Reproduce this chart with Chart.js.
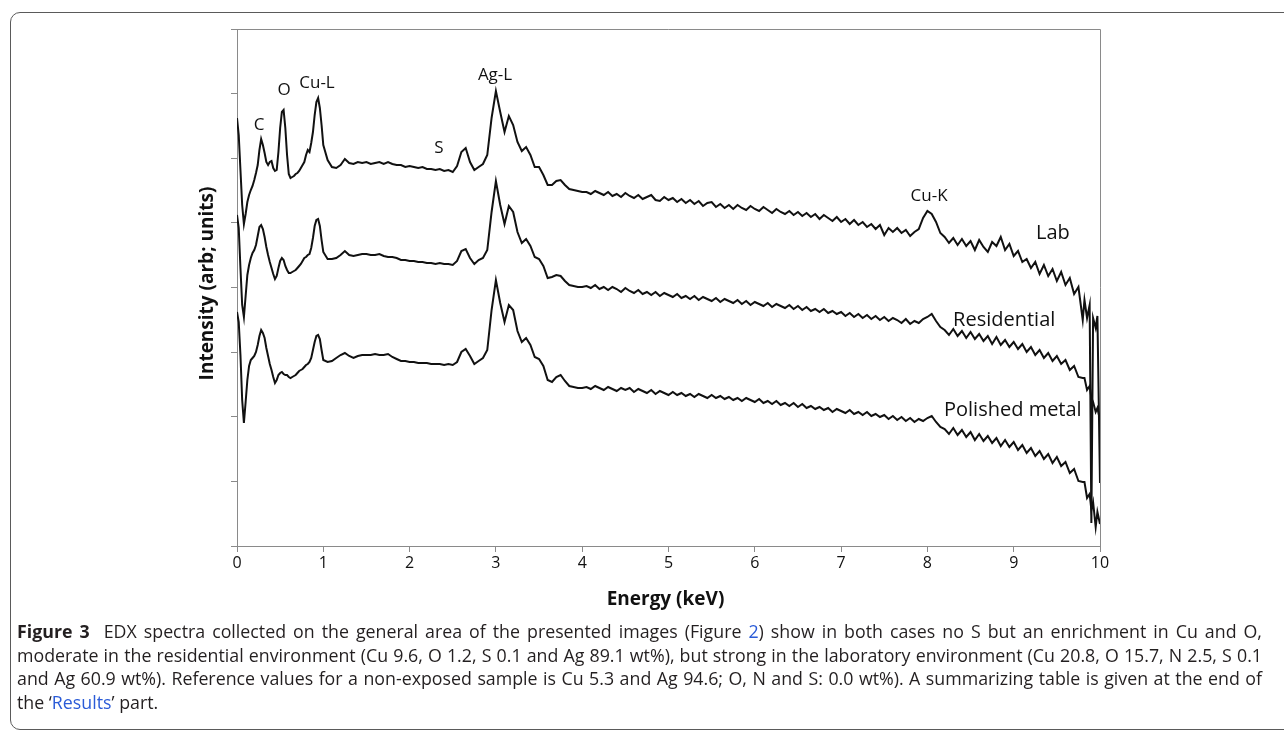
<!DOCTYPE html>
<html>
<head>
<meta charset="utf-8">
<script src="https://cdn.jsdelivr.net/npm/chart.js@4.4.0/dist/chart.umd.min.js"></script>
<style>
html, body { margin: 0; padding: 0; background: #fff; width: 1284px; height: 730px; overflow: hidden; }
#frame { position: absolute; left: 10px; top: 12px; width: 1320px; height: 716px; border: 1px solid #5a5a5a; border-radius: 10px; }
#chart { position: absolute; left: 0; top: 0; }
#caption { position: absolute; left: 17px; top: 620px; font-family: "Open Sans", sans-serif; font-size: 17.8px; line-height: 23.7px; color: #231f20; }
#caption div { width: 1245px; white-space: nowrap; text-align: justify; text-align-last: justify; }
#caption div.last { text-align: left; text-align-last: left; }
#caption b { font-weight: 700; }
#caption a { color: #2a5bd7; text-decoration: none; }
</style>
</head>
<body>
<div id="frame"></div>
<canvas id="chart" width="1284" height="620"></canvas>
<div id="caption">
<div><b>Figure 3</b>&nbsp; EDX spectra collected on the general area of the presented images (Figure <a>2</a>) show in both cases no S but an enrichment in Cu and O,</div>
<div>moderate in the residential environment (Cu 9.6, O 1.2, S 0.1 and Ag 89.1 wt%), but strong in the laboratory environment (Cu 20.8, O 15.7, N 2.5, S 0.1</div>
<div>and Ag 60.9 wt%). Reference values for a non-exposed sample is Cu 5.3 and Ag 94.6; O, N and S: 0.0 wt%). A summarizing table is given at the end of</div>
<div class="last">the &lsquo;<a>Results</a>&rsquo; part.</div>
</div>
<script>
// EDX spectra - energy in keV, intensities in arbitrary units (offset per sample)

const energy = [
  0, 0.02, 0.04, 0.06, 0.08, 0.1, 0.12, 0.14, 0.16, 0.18, 0.2, 0.22, 0.24, 0.26, 0.28, 0.3, 0.32, 0.34, 0.36, 0.38,
  0.4, 0.42, 0.44, 0.46, 0.48, 0.5, 0.52, 0.54, 0.56, 0.58, 0.6, 0.62, 0.64, 0.66, 0.68, 0.7, 0.72, 0.74, 0.76, 0.78,
  0.8, 0.82, 0.84, 0.86, 0.88, 0.9, 0.92, 0.94, 0.96, 0.98, 1,
  1.05, 1.1, 1.15, 1.2, 1.25, 1.3, 1.35, 1.4, 1.45, 1.5, 1.55, 1.6, 1.65, 1.7, 1.75, 1.8, 1.85, 1.9, 1.95, 2,
  2.05, 2.1, 2.15, 2.2, 2.25, 2.3, 2.35, 2.4, 2.45, 2.5, 2.55, 2.6, 2.65, 2.7, 2.75, 2.8, 2.85, 2.9, 2.95, 3,
  3.05, 3.1, 3.15, 3.2, 3.25, 3.3, 3.35, 3.4, 3.45, 3.5, 3.55, 3.6, 3.65, 3.7, 3.75, 3.8, 3.85, 3.9, 3.95, 4,
  4.05, 4.1, 4.15, 4.2, 4.25, 4.3, 4.35, 4.4, 4.45, 4.5, 4.55, 4.6, 4.65, 4.7, 4.75, 4.8, 4.85, 4.9, 4.95, 5,
  5.05, 5.1, 5.15, 5.2, 5.25, 5.3, 5.35, 5.4, 5.45, 5.5, 5.55, 5.6, 5.65, 5.7, 5.75, 5.8, 5.85, 5.9, 5.95, 6,
  6.05, 6.1, 6.15, 6.2, 6.25, 6.3, 6.35, 6.4, 6.45, 6.5, 6.55, 6.6, 6.65, 6.7, 6.75, 6.8, 6.85, 6.9, 6.95, 7,
  7.05, 7.1, 7.15, 7.2, 7.25, 7.3, 7.35, 7.4, 7.45, 7.5, 7.55, 7.6, 7.65, 7.7, 7.75, 7.8, 7.85, 7.9, 7.95, 8,
  8.05, 8.1, 8.15, 8.2, 8.25, 8.3, 8.35, 8.4, 8.45, 8.5, 8.55, 8.6, 8.65, 8.7, 8.75, 8.8, 8.85, 8.9, 8.95, 9,
  9.05, 9.1, 9.15, 9.2, 9.25, 9.3, 9.35, 9.4, 9.45, 9.5, 9.55, 9.6, 9.65, 9.7, 9.75, 9.8,
  9.82, 9.85, 9.88, 9.9, 9.92, 9.95, 9.97, 10
];

const lab = [
  428, 411, 376, 341, 322, 332, 344, 351, 356, 360, 366, 373, 381, 396, 407, 401, 393, 384, 381, 384,
  385, 378, 375, 376, 394, 418, 434, 436, 418, 391, 372, 368, 369, 370, 372, 373, 375, 378, 381, 384,
  391, 396, 394, 403, 414, 431, 444, 448, 438, 421, 401,
  386, 379, 378, 381, 387, 383, 382, 384, 383, 384, 382, 383, 384, 382, 384, 382, 381, 381, 379, 380,
  379, 378, 379, 377, 377, 376, 377, 375, 376, 374, 380, 394, 398, 384, 376, 379, 382, 391, 428, 455,
  434, 414, 430, 421, 404, 395, 399, 391, 379, 379, 371, 361, 361, 365, 366, 361, 357, 356, 355, 354,
  354, 352, 355, 353, 351, 354, 350, 352, 349, 353, 350, 348, 351, 347, 349, 351, 346, 345, 349, 346,
  348, 344, 347, 343, 346, 342, 345, 340, 343, 344, 339, 342, 338, 341, 337, 341, 338, 336, 340, 337,
  335, 339, 336, 333, 337, 334, 332, 335, 331, 334, 330, 333, 329, 332, 327, 331, 328, 325, 329, 324,
  327, 322, 326, 321, 324, 319, 322, 317, 321, 311, 318, 314, 318, 313, 316, 310, 314, 317, 328, 335,
  332, 324, 313, 309, 303, 308, 301, 307, 300, 305, 296, 306, 299, 294, 304, 300, 309, 296, 302, 290,
  295, 284, 287, 278, 284, 272, 281, 270, 277, 265, 274, 261, 268, 252, 259, 226,
  246, 228, 241, 23, 228, 218, 230, 63
];

const residential = [
  331, 318, 278, 241, 229, 250, 271, 281, 288, 293, 296, 301, 310, 319, 321, 317, 309, 299, 291, 284,
  278, 272, 267, 270, 278, 285, 288, 286, 280, 276, 273, 273, 274, 275, 276, 278, 280, 282, 285, 288,
  289, 291, 292, 298, 308, 320, 326, 327, 320, 306, 294,
  287, 287, 288, 291, 295, 291, 290, 291, 292, 292, 291, 291, 292, 290, 289, 289, 288, 286, 286, 285,
  285, 284, 284, 283, 283, 282, 283, 282, 282, 281, 285, 295, 297, 288, 282, 286, 288, 296, 334, 365,
  341, 322, 340, 334, 314, 303, 307, 300, 289, 287, 280, 268, 269, 271, 270, 265, 261, 260, 259, 259,
  260, 258, 261, 257, 259, 256, 259, 257, 254, 258, 255, 253, 256, 252, 254, 251, 254, 250, 253, 251,
  249, 252, 248, 250, 247, 250, 246, 249, 247, 245, 248, 244, 247, 245, 243, 246, 242, 245, 241, 244,
  242, 240, 243, 239, 242, 240, 238, 241, 237, 240, 236, 239, 235, 237, 234, 237, 233, 235, 232, 234,
  230, 233, 229, 232, 228, 231, 227, 230, 226, 229, 225, 228, 226, 223, 227, 222, 225, 223, 227, 229,
  232, 225, 219, 216, 211, 217, 210, 215, 208, 214, 207, 212, 205, 210, 202, 209, 201, 206, 199, 204,
  197, 202, 194, 199, 191, 196, 188, 193, 185, 190, 182, 186, 176, 180, 169, 168,
  168, 156, 160, 148, 144, 134, 138, 126
];

const polished = [
  234, 224, 191, 146, 123, 144, 166, 180, 186, 188, 190, 194, 201, 210, 216, 213, 208, 198, 190, 182,
  176, 169, 163, 166, 171, 173, 174, 172, 171, 171, 169, 168, 169, 170, 171, 173, 175, 176, 177, 179,
  181, 182, 184, 188, 196, 204, 210, 211, 207, 196, 186,
  184, 185, 188, 191, 193, 190, 188, 190, 191, 191, 191, 192, 191, 191, 192, 189, 187, 185, 185, 184,
  184, 183, 183, 183, 182, 182, 182, 181, 182, 181, 184, 194, 197, 190, 182, 185, 188, 196, 236, 266,
  243, 224, 241, 236, 215, 204, 208, 201, 189, 187, 180, 166, 164, 169, 171, 165, 160, 159, 158, 158,
  159, 157, 160, 158, 156, 159, 157, 155, 158, 156, 158, 154, 157, 155, 153, 156, 152, 155, 153, 151,
  154, 151, 153, 150, 152, 149, 152, 150, 148, 151, 148, 150, 147, 149, 146, 148, 145, 148, 146, 144,
  147, 143, 145, 142, 145, 141, 143, 140, 143, 139, 142, 138, 140, 137, 139, 136, 138, 134, 137, 135,
  133, 136, 132, 134, 131, 134, 130, 132, 129, 131, 127, 130, 126, 129, 125, 128, 124, 127, 125, 128,
  130, 124, 119, 117, 112, 118, 111, 116, 109, 114, 106, 112, 105, 110, 103, 108, 100, 106, 99, 104,
  96, 101, 93, 98, 90, 95, 87, 92, 83, 89, 80, 84, 73, 77, 65, 64,
  64, 48, 52, 36, 44, 19, 34, 22
];

const xTicks = [0, 1, 2, 3, 4, 5, 6, 7, 8, 9, 10];
const yMax = 517;

// peak annotations
const peakNames = ['C', 'O', 'Cu-L', 'S', 'Ag-L', 'Cu-K'];
const peakEnergy = [0.255, 0.545, 0.927, 2.34, 2.99, 8.02];
const peakLevel = [421, 456, 463, 398, 471, 350];

// sample names next to each spectrum
const sampleNames = ['Lab', 'Residential', 'Polished metal'];
const sampleEnergy = [9.455, 8.89, 8.99];
const sampleLevel = [313, 226, 136];

const FONT = '"Open Sans", "DejaVu Sans", sans-serif';
const AXIS_GRAY = '#8a8a8a';

function toPoints(values) {
  return energy.map((e, i) => ({ x: e, y: values[i] }));
}

const plotBox = {
  id: 'plotBox',
  beforeDatasetsDraw(chart) {
    const { ctx, chartArea: a } = chart;
    ctx.save();
    ctx.strokeStyle = AXIS_GRAY;
    ctx.lineWidth = 1;
    ctx.beginPath();
    ctx.moveTo(a.left, a.top + 0.5);
    ctx.lineTo(a.right + 0.5, a.top + 0.5);
    ctx.lineTo(a.right + 0.5, a.bottom);
    ctx.stroke();
    ctx.restore();
  }
};

const textLayer = {
  id: 'textLayer',
  afterDatasetsDraw(chart) {
    const { ctx, chartArea: a, scales } = chart;
    ctx.save();
    ctx.fillStyle = '#111';
    ctx.textAlign = 'center';
    ctx.textBaseline = 'middle';

    ctx.font = '17px ' + FONT;
    peakNames.forEach((name, i) => {
      ctx.fillText(name, scales.x.getPixelForValue(peakEnergy[i]), scales.y.getPixelForValue(peakLevel[i]));
    });

    ctx.font = '20px ' + FONT;
    sampleNames.forEach((name, i) => {
      ctx.fillText(name, scales.x.getPixelForValue(sampleEnergy[i]), scales.y.getPixelForValue(sampleLevel[i]));
    });

    // axis titles
    ctx.font = 'bold 19px ' + FONT;
    ctx.fillText('Energy (keV)', (a.left + a.right) / 2 - 3, a.bottom + 54);
    ctx.translate(a.left - 29, (a.top + a.bottom) / 2 - 4);
    ctx.rotate(-Math.PI / 2);
    ctx.fillText('Intensity (arb; units)', 0, 0);
    ctx.restore();
  }
};

function makeDataset(label, values) {
  return {
    label: label,
    data: toPoints(values),
    borderColor: '#111',
    borderWidth: 2,
    pointRadius: 0,
    tension: 0,
    fill: false
  };
}

new Chart(document.getElementById('chart'), {
  type: 'line',
  data: {
    datasets: [
      makeDataset('Lab', lab),
      makeDataset('Residential', residential),
      makeDataset('Polished metal', polished)
    ]
  },
  options: {
    responsive: false,
    animation: false,
    devicePixelRatio: 1,
    layout: { padding: { left: 197, right: 184, top: 29, bottom: 34 } },
    plugins: { legend: { display: false }, tooltip: { enabled: false } },
    scales: {
      x: {
        type: 'linear',
        min: 0,
        max: 10,
        afterBuildTicks: s => { s.ticks = xTicks.map(v => ({ value: v })); },
        ticks: { color: '#111', font: { family: FONT, size: 16 }, padding: 2, maxRotation: 0, autoSkip: false },
        grid: { drawOnChartArea: false, drawTicks: true, tickLength: 6, color: AXIS_GRAY },
        border: { color: AXIS_GRAY, width: 1 },
        afterFit: s => { s.height = 40; }
      },
      y: {
        min: 0,
        max: yMax,
        afterBuildTicks: s => { s.ticks = [0, 1, 2, 3, 4, 5, 6, 7, 8].map(i => ({ value: i * yMax / 8 })); },
        ticks: { callback: () => '' },
        grid: { drawOnChartArea: false, drawTicks: true, tickLength: 6, color: AXIS_GRAY },
        border: { color: AXIS_GRAY, width: 1 },
        afterFit: s => { s.width = 40; }
      }
    }
  },
  plugins: [plotBox, textLayer]
});
</script>
</body>
</html>
